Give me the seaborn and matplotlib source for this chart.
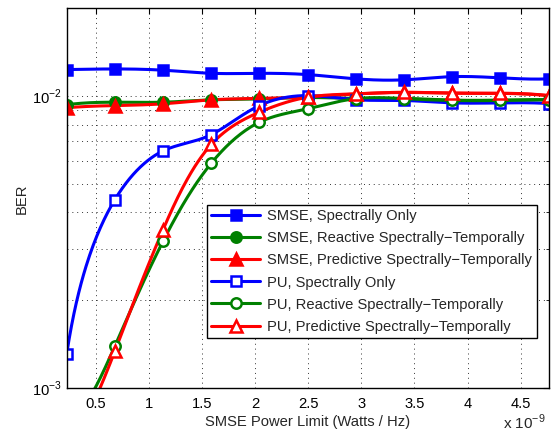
import numpy as np
import pandas as pd
import matplotlib
matplotlib.use("Agg")
import matplotlib.pyplot as plt
import seaborn as sns
from matplotlib.lines import Line2D
from matplotlib.ticker import LogLocator, NullFormatter, FixedLocator

# ---------------- data (x in units of 1e-9 W/Hz) ----------------
power_limit = [0.227, 0.681, 1.134, 1.588, 2.041, 2.495, 2.948, 3.402, 3.856, 4.309, 4.763]

smse_spectral = [1.234e-2, 1.240e-2, 1.228e-2, 1.198e-2, 1.198e-2, 1.186e-2,
                 1.147e-2, 1.138e-2, 1.167e-2, 1.156e-2, 1.147e-2]
smse_reactive = [9.35e-3, 9.54e-3, 9.54e-3, 9.72e-3, 9.79e-3, 9.90e-3,
                 9.83e-3, 9.83e-3, 9.70e-3, 9.70e-3, 9.73e-3]
smse_predictive = [9.13e-3, 9.29e-3, 9.42e-3, 9.72e-3, 9.83e-3, 9.95e-3,
                   1.018e-2, 1.030e-2, 1.025e-2, 1.023e-2, 1.005e-2]
pu_spectral = [1.31e-3, 4.43e-3, 6.50e-3, 7.39e-3, 9.29e-3, 1.005e-2,
               9.73e-3, 9.67e-3, 9.49e-3, 9.49e-3, 9.44e-3]
pu_reactive = [7.9e-4, 1.396e-3, 3.19e-3, 5.90e-3, 8.15e-3, 9.06e-3,
               9.81e-3, 9.81e-3, 9.67e-3, 9.67e-3, 9.73e-3]
pu_predictive = [6.8e-4, 1.342e-3, 3.494e-3, 6.84e-3, 8.82e-3, 9.92e-3,
                 1.019e-2, 1.032e-2, 1.024e-2, 1.024e-2, 1.005e-2]

labels = ["SMSE, Spectrally Only",
          "SMSE, Reactive Spectrally\u2212Temporally",
          "SMSE, Predictive Spectrally\u2212Temporally",
          "PU, Spectrally Only",
          "PU, Reactive Spectrally\u2212Temporally",
          "PU, Predictive Spectrally\u2212Temporally"]
series = [smse_spectral, smse_reactive, smse_predictive,
          pu_spectral, pu_reactive, pu_predictive]
colors = ["#0000ff", "#008000", "#ff0000", "#0000ff", "#008000", "#ff0000"]
markers = ["s", "o", "^", "s", "o", "^"]
filled = [True, True, True, False, False, False]


def spline_nak(x, y, xs):
    """Not-a-knot cubic spline (like MATLAB's spline)."""
    x = np.asarray(x, float); y = np.asarray(y, float)
    n = len(x); h = np.diff(x)
    A = np.zeros((n, n)); b = np.zeros(n)
    A[0, 0] = h[1]; A[0, 1] = -(h[0] + h[1]); A[0, 2] = h[0]
    A[-1, -3] = h[-1]; A[-1, -2] = -(h[-2] + h[-1]); A[-1, -1] = h[-2]
    for i in range(1, n - 1):
        A[i, i - 1] = h[i - 1]
        A[i, i] = 2 * (h[i - 1] + h[i])
        A[i, i + 1] = h[i]
        b[i] = 6 * ((y[i + 1] - y[i]) / h[i] - (y[i] - y[i - 1]) / h[i - 1])
    M = np.linalg.solve(A, b)
    idx = np.clip(np.searchsorted(x, xs) - 1, 0, n - 2)
    x0 = x[idx]; x1 = x[idx + 1]; hh = x1 - x0
    return (M[idx] * (x1 - xs) ** 3 / (6 * hh) + M[idx + 1] * (xs - x0) ** 3 / (6 * hh)
            + (y[idx] / hh - M[idx] * hh / 6) * (x1 - xs)
            + (y[idx + 1] / hh - M[idx + 1] * hh / 6) * (xs - x0))


sns.set_style("white")
plt.rcParams['font.family'] = ['Liberation Sans', 'DejaVu Sans']
plt.rcParams['mathtext.fontset'] = 'custom'
plt.rcParams['mathtext.rm'] = 'Liberation Sans'

FS = 10.6
fig = plt.figure(figsize=(5.53, 4.33), dpi=100)
ax = fig.add_axes([0.1206, 0.1032, 0.9922 - 0.1206, 0.9808 - 0.1032])

xs = np.linspace(power_limit[0], power_limit[-1], 400)
handles = []
for lab, ys, c, m, f in zip(labels, series, colors, markers, filled):
    smooth = np.clip(spline_nak(power_limit, ys, xs), 1e-5, None)
    df_s = pd.DataFrame({"x": xs, "y": smooth})
    sns.lineplot(data=df_s, x="x", y="y", ax=ax, color=c, lw=2.2, sort=False,
                 estimator=None, legend=False, zorder=3)
    df_p = pd.DataFrame({"x": power_limit, "y": ys})
    ms = 8 if m == "^" else (7 if m == "s" else 7.5)
    ax.plot(df_p["x"], df_p["y"], ls="none", marker=m, ms=ms,
            mfc=c if f else "white", mec=c, mew=1.8, zorder=4, clip_on=True)
    handles.append(Line2D([], [], color=c, lw=2.2, marker=m, ms=ms,
                          mfc=c if f else "white", mec=c, mew=1.8))

ax.set_yscale("log")
ax.set_xlim(0.227, 4.763)
ax.set_ylim(1e-3, 2e-2)
ax.xaxis.set_major_locator(FixedLocator([0.5, 1, 1.5, 2, 2.5, 3, 3.5, 4, 4.5]))
ax.set_xticklabels(["0.5", "1", "1.5", "2", "2.5", "3", "3.5", "4", "4.5"])
ax.yaxis.set_major_locator(FixedLocator([1e-3, 1e-2]))
ax.set_yticklabels([r"$10^{-3}$", r"$10^{-2}$"])
ax.yaxis.set_minor_locator(LogLocator(base=10, subs=np.arange(2, 10), numticks=20))
ax.yaxis.set_minor_formatter(NullFormatter())

ax.grid(True, which="major", axis="both", color="#333333", ls=(0, (1, 4)), lw=0.7)
ax.grid(True, which="minor", axis="y", color="#333333", ls=(0, (1, 4)), lw=0.7)
ax.tick_params(axis="both", which="both", direction="in", top=True, right=True,
               labelsize=FS, colors="black")
ax.tick_params(axis="x", which="major", pad=6)
ax.tick_params(which="major", length=4)
ax.tick_params(which="minor", length=2)
for s in ax.spines.values():
    s.set_color("black"); s.set_linewidth(1.0)
    s.set_zorder(5)

ax.set_xlabel("SMSE Power Limit (Watts / Hz)", fontsize=FS, labelpad=3)
ax.set_ylabel("BER", fontsize=FS, labelpad=2)
fig.text(0.9865, 0.003, r"x 10$^{-9}$", ha="right", va="bottom", fontsize=FS + 0.4)

leg = ax.legend(handles, labels, loc="lower right", bbox_to_anchor=(0.975, 0.132),
                fontsize=FS, frameon=True, fancybox=False, framealpha=1,
                edgecolor="black", handlelength=3.3, handletextpad=0.5,
                labelspacing=0.55, borderpad=0.3, borderaxespad=0)
leg.get_frame().set_linewidth(1.0)
leg.set_zorder(6)

fig.savefig("out.png", dpi=100)
